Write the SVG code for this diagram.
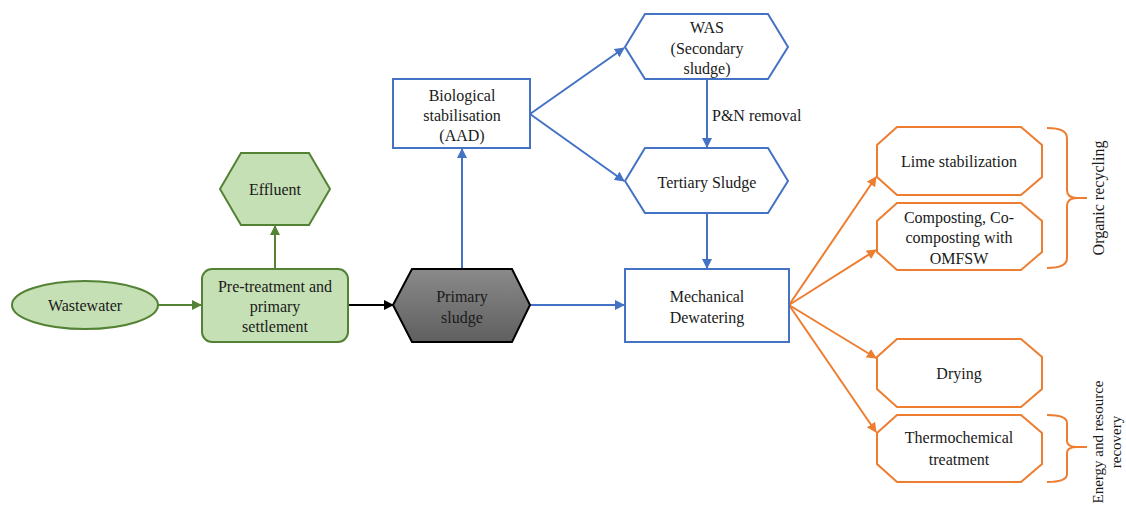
<svg xmlns="http://www.w3.org/2000/svg" width="1126" height="510" viewBox="0 0 1126 510" font-family="'Liberation Serif', 'Times New Roman', serif" font-size="16">
<style>
text{font-family:'Liberation Serif','Times New Roman',serif;font-size:16px;fill:#1a1a1a;text-anchor:middle}
.g{fill:#c5e0b4;stroke:#548235;stroke-width:2}
.b{fill:#fff;stroke:#4472c4;stroke-width:2}
.o{fill:#fff;stroke:#ed7d31;stroke-width:2}
.lg{stroke:#548235;stroke-width:2;fill:none}
.lb{stroke:#4472c4;stroke-width:2;fill:none}
.lo{stroke:#ed7d31;stroke-width:2;fill:none}
.lk{stroke:#000;stroke-width:2;fill:none}
</style>
<defs>
<marker id="ag" viewBox="0 0 10 10" refX="9" refY="5" markerWidth="5" markerHeight="5" orient="auto"><path d="M0,0L10,5L0,10z" fill="#548235"/></marker>
<marker id="ab" viewBox="0 0 10 10" refX="9" refY="5" markerWidth="5" markerHeight="5" orient="auto"><path d="M0,0L10,5L0,10z" fill="#4472c4"/></marker>
<marker id="ao" viewBox="0 0 10 10" refX="9" refY="5" markerWidth="5" markerHeight="5" orient="auto"><path d="M0,0L10,5L0,10z" fill="#ed7d31"/></marker>
<marker id="ak" viewBox="0 0 10 10" refX="9" refY="5" markerWidth="5" markerHeight="5" orient="auto"><path d="M0,0L10,5L0,10z" fill="#000"/></marker>
<linearGradient id="gray" x1="0" y1="0" x2="0" y2="1"><stop offset="0" stop-color="#8a8a8a"/><stop offset="1" stop-color="#5f5f5f"/></linearGradient>
</defs>
<g id="connectors">
<line class="lg" x1="158" y1="305" x2="201" y2="305" marker-end="url(#ag)"/>
<line class="lg" x1="275" y1="269" x2="275" y2="226" marker-end="url(#ag)"/>
<line class="lk" x1="348" y1="305" x2="393" y2="305" marker-end="url(#ak)"/>
<line class="lb" x1="462" y1="269" x2="462" y2="149" marker-end="url(#ab)"/>
<line class="lb" x1="530" y1="305" x2="624" y2="305" marker-end="url(#ab)"/>
<line class="lb" x1="530" y1="114" x2="624" y2="48" marker-end="url(#ab)"/>
<line class="lb" x1="530" y1="114" x2="624" y2="181" marker-end="url(#ab)"/>
<line class="lb" x1="707" y1="79" x2="707" y2="147" marker-end="url(#ab)"/>
<line class="lb" x1="707" y1="213" x2="707" y2="268" marker-end="url(#ab)"/>
<line class="lo" x1="789" y1="305" x2="876" y2="177" marker-end="url(#ao)"/>
<line class="lo" x1="789" y1="305" x2="876" y2="250" marker-end="url(#ao)"/>
<line class="lo" x1="789" y1="305" x2="876" y2="358" marker-end="url(#ao)"/>
<line class="lo" x1="789" y1="305" x2="876" y2="432" marker-end="url(#ao)"/>
<text x="712" y="121" text-anchor="start" style="text-anchor:start">P&amp;N removal</text>
</g>
<g id="wastewater"><ellipse class="g" cx="85" cy="305" rx="73" ry="24"/><text x="85" y="311">Wastewater</text></g>
<g id="pretreatment"><rect class="g" x="202" y="269" width="146" height="73" rx="10"/><text x="275" y="292">Pre-treatment and</text><text x="275" y="312">primary</text><text x="275" y="332">settlement</text></g>
<g id="effluent"><polygon class="g" points="220,189 241,153 309,153 330,189 309,225 241,225"/><text x="275" y="195">Effluent</text></g>
<g id="primary"><polygon points="393,305 412,269 512,269 530,305 512,342 412,342" fill="url(#gray)" stroke="#000" stroke-width="2"/><text x="462" y="302">Primary</text><text x="462" y="323">sludge</text></g>
<g id="bio"><rect class="b" x="393" y="79" width="137" height="69"/><text x="462" y="101">Biological</text><text x="462" y="121">stabilisation</text><text x="462" y="141">(AAD)</text></g>
<g id="was"><polygon class="b" points="625,47 645,14 768,14 788,47 768,79 645,79"/><text x="707" y="33">WAS</text><text x="707" y="54">(Secondary</text><text x="707" y="74">sludge)</text></g>
<g id="tertiary"><polygon class="b" points="625,181 645,148 768,148 788,181 768,213 645,213"/><text x="707" y="188">Tertiary Sludge</text></g>
<g id="mechanical"><rect class="b" x="625" y="269" width="164" height="73"/><text x="707" y="302">Mechanical</text><text x="707" y="323">Dewatering</text></g>
<g id="lime"><polygon class="o" points="877,145 897,127 1021,127 1042,145 1042,177 1021,195 897,195 877,177"/><text x="959" y="167">Lime stabilization</text></g>
<g id="composting"><polygon class="o" points="877,221 897,203 1021,203 1042,221 1042,252 1021,270 897,270 877,252"/><text x="959" y="223">Composting, Co-</text><text x="959" y="243">composting with</text><text x="959" y="264">OMFSW</text></g>
<g id="drying"><polygon class="o" points="877,357 897,339 1021,339 1042,357 1042,389 1021,407 897,407 877,389"/><text x="959" y="379">Drying</text></g>
<g id="thermo"><polygon class="o" points="877,433 897,415 1021,415 1042,433 1042,464 1021,482 897,482 877,464"/><text x="959" y="443">Thermochemical</text><text x="959" y="465">treatment</text></g>
<g id="organic"><path class="lo" d="M1047,128 Q1067,128 1067,138 L1067,190 Q1067,198 1077,198 L1087,198 M1077,198 Q1067,198 1067,206 L1067,258 Q1067,268 1047,268"/><text transform="translate(1104,198) rotate(-90)">Organic recycling</text></g>
<g id="energy"><path class="lo" d="M1047,415 Q1067,415 1067,423 L1067,441 Q1067,447 1077,447 L1087,447 M1077,447 Q1067,447 1067,453 L1067,474 Q1067,482 1047,482"/><text transform="translate(1103,442) rotate(-90)" style="font-size:15px">Energy and resource</text><text transform="translate(1121,442) rotate(-90)" style="font-size:15px">recovery</text></g>
</svg>
